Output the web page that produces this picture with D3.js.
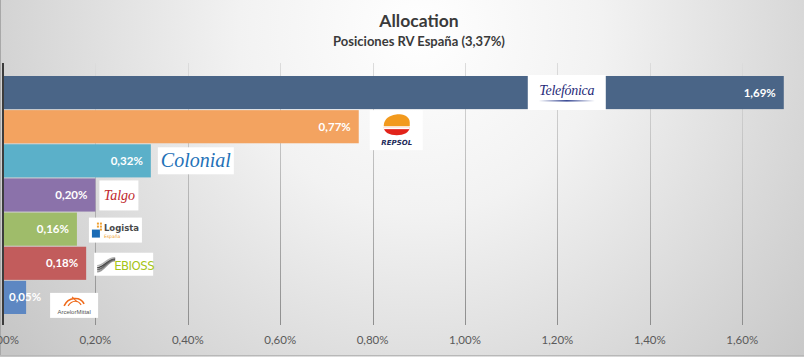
<!DOCTYPE html>
<html><head><meta charset="utf-8">
<script src="https://cdn.jsdelivr.net/npm/d3@7"></script>
<style>
html,body{margin:0;padding:0;overflow:hidden;}
svg{display:block;}
</style></head>
<body>
<script>
const categories = ["Telefónica","Repsol","Colonial","Talgo","Logista","Ebioss","ArcelorMittal"];
const values = [1.69,0.77,0.32,0.20,0.16,0.18,0.05];
const barColors = ["#4a6587","#f3a360","#5bb0c9","#8b72aa","#9fbc6a","#c25c5c","#5d87c2"];
const tickValues = [0,0.2,0.4,0.6,0.8,1.0,1.2,1.4,1.6];
const title = "Allocation";
const subtitle = "Posiciones RV España (3,37%)";

const W = 804, H = 357;
const svg = d3.select("body").append("svg").attr("width", W).attr("height", H);
const defs = svg.append("defs");
const bg = defs.append("radialGradient").attr("id","bg")
  .attr("gradientUnits","userSpaceOnUse").attr("cx",420).attr("cy",30).attr("r",520)
  .attr("fx",420).attr("fy",30);
bg.append("stop").attr("offset","0%").attr("stop-color","#ffffff");
bg.append("stop").attr("offset","35%").attr("stop-color","#f2f2f2");
bg.append("stop").attr("offset","100%").attr("stop-color","#c6c6c6");
const gg = defs.append("linearGradient").attr("id","grid")
  .attr("gradientUnits","userSpaceOnUse").attr("x1",0).attr("y1",63).attr("x2",0).attr("y2",325);
gg.append("stop").attr("offset","0%").attr("stop-color","#dcdcdc");
gg.append("stop").attr("offset","100%").attr("stop-color","#8e8e8e");
const sw = defs.append("linearGradient").attr("id","swoosh");
sw.append("stop").attr("offset","0%").attr("stop-color","#ffffff");
sw.append("stop").attr("offset","50%").attr("stop-color","#3a4a95");
sw.append("stop").attr("offset","100%").attr("stop-color","#ffffff");

svg.append("rect").attr("width",W).attr("height",H).attr("fill","url(#bg)");
svg.append("line").attr("x1",0.5).attr("x2",0.5).attr("y1",0).attr("y2",356).attr("stroke","#a8a8a8");
svg.append("line").attr("x1",0).attr("x2",W).attr("y1",355.5).attr("y2",355.5).attr("stroke","#b8b8b8");

const font = "Lato, 'Open Sans', sans-serif";
svg.append("text").attr("x",419).attr("y",27).attr("text-anchor","middle")
  .attr("font-family",font).attr("font-weight","bold").attr("font-size",17.5)
  .attr("fill","#3a3a3a").text(title);
svg.append("text").attr("x",419).attr("y",46).attr("text-anchor","middle")
  .attr("font-family",font).attr("font-weight","bold").attr("font-size",13)
  .attr("fill","#3a3a3a").text(subtitle);

const x = d3.scaleLinear().domain([0,1.7]).range([3, 3+1.7*462]);
const y = d3.scaleBand().domain(categories).range([76,314]).paddingInner(0.03);
const fmt = v => d3.format(".2f")(v).replace(".",",") + "%";

// gridlines + tick labels
const ax = svg.append("g");
ax.selectAll("line.g").data(tickValues.filter(t=>t>0)).join("line")
  .attr("x1",d=>Math.round(x(d))+0.5).attr("x2",d=>Math.round(x(d))+0.5)
  .attr("y1",63).attr("y2",325).attr("stroke","url(#grid)").attr("stroke-width",1);
ax.selectAll("text").data(tickValues).join("text")
  .attr("x",d=>x(d)).attr("y",344).attr("text-anchor","middle")
  .attr("font-family",font).attr("font-size",11.5).attr("fill","#5a5a5a").text(fmt);

const data = categories.map((c,i)=>({c, v: values[i], color: barColors[i]}));

svg.append("g").selectAll("rect").data(data).join("rect")
  .attr("x", x(0)).attr("y", d=>y(d.c)).attr("width", d=>x(d.v)-x(0))
  .attr("height", y.bandwidth()).attr("fill", d=>d.color);

// axis line
svg.append("line").attr("x1",x(0)).attr("x2",x(0)).attr("y1",63).attr("y2",325)
  .attr("stroke","#3c3c3c").attr("stroke-width",2);

// value labels
const lbl = svg.append("g").selectAll("text").data(data).join("text")
  .attr("y", d=>y(d.c)+y.bandwidth()/2+4).attr("text-anchor","end")
  .attr("font-family",font).attr("font-weight","bold").attr("font-size",11.5)
  .attr("fill","#ffffff").text(d=>fmt(d.v));
lbl.each(function(d){
  const w = this.getComputedTextLength();
  d3.select(this).attr("x", Math.max(x(d.v)-8, x(0)+6+w));
});

// logos (decorations anchored to bar ends)
const logo = (c, dx, dy, w, h) => {
  const g = svg.append("g").attr("transform",`translate(${x(values[categories.indexOf(c)])+dx},${y(c)+dy})`);
  g.append("rect").attr("width",w).attr("height",h).attr("fill","#ffffff");
  return g;
};
// Telefónica
{
  const g = logo("Telefónica", -256, -1, 78, 35);
  g.append("text").attr("x",39).attr("y",20).attr("text-anchor","middle")
    .attr("font-family","'Liberation Serif', serif").attr("font-style","italic")
    .attr("font-size",14).attr("fill","#1f2a78").attr("letter-spacing",-0.3).text("Telefónica");
  g.append("rect").attr("x",11).attr("y",25).attr("width",56).attr("height",1.6).attr("fill","url(#swoosh)");
}
// Repsol
{
  const g = logo("Repsol", 11, 0, 53, 40);
  g.append("path").attr("d","M14,16 C14,6 24,4 30,4 C36,4 40,8 40,12 L40,16 Z").attr("fill","#f29a1e");
  g.append("path").attr("d","M14,17 L40,17 C40,22 34,25 27,25 C20,25 14,22 14,17 Z").attr("fill","#e2231a");
  g.append("path").attr("d","M14,17 L40,17 L40,19 L14,19 Z").attr("fill","#ffffff");
  g.append("text").attr("x",27).attr("y",35).attr("text-anchor","middle")
    .attr("font-family","'DejaVu Sans', sans-serif").attr("font-weight","bold").attr("font-style","italic")
    .attr("font-size",7).attr("fill","#1d2b5a").text("REPSOL");
}
// Colonial
{
  const g = logo("Colonial", 7, 3, 76, 27);
  g.append("text").attr("x",38).attr("y",20).attr("text-anchor","middle")
    .attr("font-family","'Liberation Serif', serif").attr("font-style","italic")
    .attr("font-size",20).attr("fill","#1f72b8").text("Colonial");
}
// Talgo
{
  const g = logo("Talgo", 4, 2, 39, 30);
  g.append("text").attr("x",20).attr("y",20).attr("text-anchor","middle")
    .attr("font-family","'Liberation Serif', serif").attr("font-style","italic")
    .attr("font-size",14).attr("fill","#c0272d").text("Talgo");
}
// Logista
{
  const g = logo("Logista", 12, 5, 53, 25);
  g.append("rect").attr("x",3).attr("y",12).attr("width",8).attr("height",8).attr("fill","#1a6bb5");
  [[11,8],[8,8],[11,11],[8,5],[11,5]].forEach(p=>g.append("rect").attr("x",p[0]).attr("y",p[1]).attr("width",2).attr("height",2).attr("fill","#f0a030"));
  g.append("text").attr("x",15).attr("y",13).attr("font-family","'DejaVu Sans', sans-serif")
    .attr("font-weight","bold").attr("font-size",8.5).attr("fill","#4a4a4a").text("Logista");
  g.append("text").attr("x",15).attr("y",20).attr("font-family","'DejaVu Sans', sans-serif")
    .attr("font-size",4.5).attr("fill","#f0a030").text("España");
}
// Ebioss
{
  const g = logo("Ebioss", 8, 6, 59, 23);
  [0,2,4,6].forEach((o,i)=>g.append("path")
    .attr("d",`M3,${19-o} C10,${19-o} 14,${7-o/2} 21,${7-o/2+1}`)
    .attr("stroke",["#9a9a9a","#6a6a6a","#4a4a4a","#b5b5b5"][i]).attr("stroke-width",1.6).attr("fill","none"));
  g.append("text").attr("x",20).attr("y",17).attr("font-family","'DejaVu Sans Condensed', 'DejaVu Sans', sans-serif")
    .attr("font-size",13).attr("fill","#a5c416").attr("letter-spacing",-0.5).text("EBIOSS");
}
// ArcelorMittal
{
  const g = logo("ArcelorMittal", 24, 12, 48, 25);
  g.append("path").attr("d","M14,13 C18,4 30,3 34,11").attr("stroke","#ef6a1a").attr("stroke-width",1.6).attr("fill","none");
  g.append("path").attr("d","M18,13 C22,7 28,7 31,12").attr("stroke","#ef6a1a").attr("stroke-width",1.2).attr("fill","none");
  g.append("path").attr("d","M22,4 L27,9").attr("stroke","#ef6a1a").attr("stroke-width",1.2);
  g.append("text").attr("x",24).attr("y",21).attr("text-anchor","middle").attr("font-family","'Liberation Sans', sans-serif")
    .attr("font-size",6).attr("fill","#555555").text("ArcelorMittal");
}
</script>
</body></html>
